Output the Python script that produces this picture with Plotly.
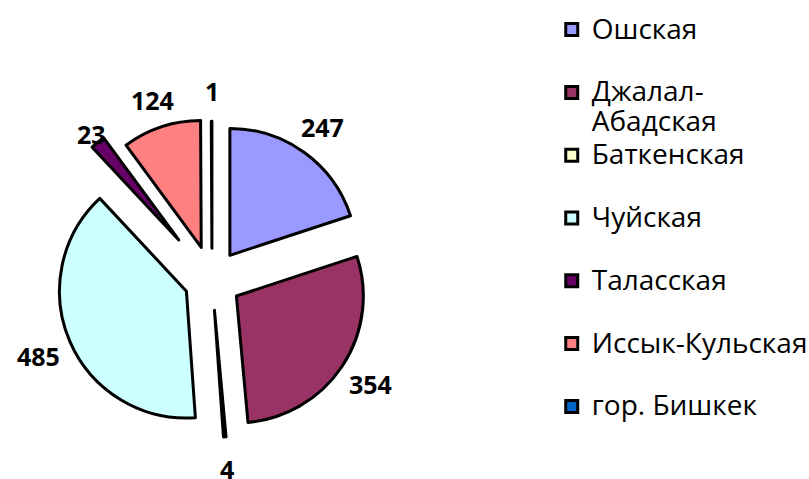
import math
import plotly.graph_objects as go

W, H = 809, 479

# Regions of Kyrgyzstan and their counts
regions = ["Ошская", "Джалал-<br>Абадская", "Баткенская", "Чуйская",
           "Таласская", "Иссык-Кульская", "гор. Бишкек"]
counts = [247, 354, 4, 485, 23, 124, 1]
colors = ["#9999FF", "#993366", "#FFFFCC", "#CCFFFF", "#660066", "#FF8080", "#0066CC"]
pulls = [0.24, 0.23, 0.24, 0.22, 0.41, 0.27, 0.25]

dom_x = [0.0408, 0.4833]
dom_y = [0.0418, 0.7891]


def legend_text(name):
    # every row is two lines tall so the legend rows are spread out evenly
    lines = name.split("<br>")
    if len(lines) == 1:
        lines.append(" ")
    return "<br>".join('<span style="font-size:28px">%s</span>' % s for s in lines)


legend_labels = [legend_text(r) for r in regions]

fig = go.Figure(go.Pie(
    labels=legend_labels,
    values=counts,
    sort=False,
    direction="clockwise",
    rotation=0,
    pull=pulls,
    marker=dict(colors=colors, line=dict(color="black", width=3)),
    textinfo="none",
    hoverinfo="label+value",
    domain=dict(x=dom_x, y=dom_y),
))

# value labels sit on a common ring outside the pie, at each slice's mid-angle
aw = W * (dom_x[1] - dom_x[0])
ah = H * (dom_y[1] - dom_y[0])
radius = min(aw, ah) / (2 + 2 * max(pulls))
cx = W * (dom_x[0] + dom_x[1]) / 2
cy = H * (1 - dom_y[0]) - ah / 2
label_ring = 1.49 * radius
total = sum(counts)
start = 0
for v in counts:
    mid = 2 * math.pi * (start + v / 2) / total
    start += v
    px = cx + label_ring * math.sin(mid)
    py = cy - label_ring * math.cos(mid)
    fig.add_annotation(
        x=px / W, y=1 - py / H, xref="paper", yref="paper",
        text=str(v), showarrow=False,
        xanchor="center", yanchor="middle",
        font=dict(family="Open Sans", size=25, color="black", weight="bold"),
    )

fig.update_layout(
    width=W, height=H,
    margin=dict(l=0, r=0, t=0, b=0, autoexpand=False),
    paper_bgcolor="white",
    plot_bgcolor="white",
    showlegend=True,
    legend=dict(
        x=0.682, y=0.983, xanchor="left", yanchor="top",
        font=dict(family="Open Sans", size=23, color="black"),
        valign="top",
        itemclick=False,
    ),
)

fig.write_html("out.html")
